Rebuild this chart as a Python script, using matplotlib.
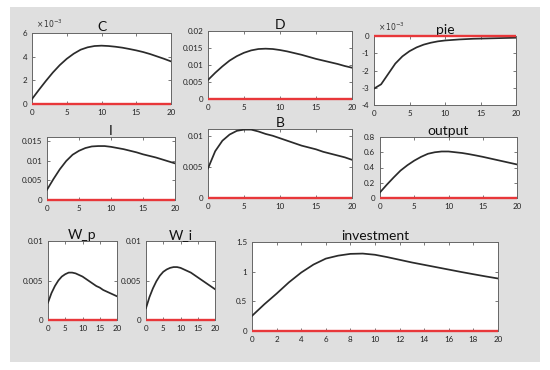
import matplotlib
matplotlib.use("Agg")
import matplotlib.pyplot as plt
from matplotlib.patches import Rectangle
from matplotlib.ticker import FuncFormatter

plt.rcParams['font.family'] = ['Lato', 'DejaVu Sans']

# ---- data (impulse responses, periods 0..20) ----
periods = list(range(21))

C_vals = [0.42, 1.2, 1.95, 2.66, 3.29, 3.82, 4.25, 4.59, 4.79, 4.9, 4.93, 4.9, 4.84,
          4.76, 4.65, 4.53, 4.39, 4.22, 4.02, 3.82, 3.6]          # x 1e-3
D_vals = [0.0056, 0.0077, 0.0096, 0.0113, 0.0126, 0.0136, 0.0143, 0.0147, 0.0148,
          0.0147, 0.0144, 0.0140, 0.0135, 0.0130, 0.0124, 0.0118, 0.0113, 0.0108,
          0.0103, 0.0097, 0.0092]
pie_vals = [-3.05, -2.8, -2.2, -1.6, -1.18, -0.88, -0.66, -0.5, -0.39, -0.31, -0.26,
            -0.23, -0.2, -0.18, -0.16, -0.15, -0.14, -0.13, -0.12, -0.11, -0.1]  # x 1e-3
I_vals = [0.0026, 0.0053, 0.0078, 0.0099, 0.0115, 0.0125, 0.0132, 0.0136, 0.0137,
          0.0137, 0.0135, 0.0132, 0.0129, 0.0125, 0.0121, 0.0116, 0.0112, 0.0108,
          0.0103, 0.0098, 0.0093]
B_vals = [0.0048, 0.0076, 0.0093, 0.0103, 0.0109, 0.0111, 0.0111, 0.0108, 0.0104,
          0.0101, 0.0097, 0.0093, 0.0089, 0.0085, 0.0082, 0.0079, 0.0075, 0.0072,
          0.0069, 0.0066, 0.0062]
output_vals = [0.074, 0.175, 0.27, 0.36, 0.43, 0.49, 0.54, 0.58, 0.60, 0.61, 0.61,
               0.60, 0.59, 0.575, 0.558, 0.54, 0.52, 0.50, 0.48, 0.46, 0.44]
Wp_vals = [0.0022, 0.0034, 0.0043, 0.0050, 0.0055, 0.0058, 0.0060, 0.0060, 0.0059,
           0.0057, 0.0055, 0.0052, 0.0049, 0.0046, 0.0043, 0.0041, 0.0038, 0.0036,
           0.0034, 0.0032, 0.0030]
Wi_vals = [0.0015, 0.0029, 0.0040, 0.0049, 0.0056, 0.0061, 0.0064, 0.0066, 0.0067,
           0.0067, 0.0066, 0.0064, 0.0062, 0.0060, 0.0057, 0.0054, 0.0051, 0.0048,
           0.0045, 0.0042, 0.0039]
inv_vals = [0.255, 0.45, 0.63, 0.82, 0.985, 1.12, 1.22, 1.27, 1.30, 1.305, 1.285, 1.245,
            1.20, 1.155, 1.115, 1.075, 1.035, 0.995, 0.957, 0.92, 0.885]
steady = [0.0] * 21

W, H = 550, 370
fig = plt.figure(figsize=(5.5, 3.7), dpi=100)
fig.patch.set_facecolor('white')
bg = Rectangle((10 / W, 1 - 362 / H), 530 / W, 355 / H,
               transform=fig.transFigure, facecolor='#dfdfdf',
               edgecolor='none', zorder=-10)
fig.add_artist(bg)

LINE = '#2b2b2b'
RED = '#e8373a'
TFS = 10
KFS = 5.8


def make_ax(x0, y0, x1, y1, title, vals, ylim, yticks, xticks, scale=1.0,
            fmt=None, mult=False):
    ax = fig.add_axes([x0 / W, 1 - y1 / H, (x1 - x0) / W, (y1 - y0) / H])
    ax.set_zorder(1)
    ax.set_facecolor('white')
    yv = [v * scale for v in vals]
    ax.plot(periods, [s * scale for s in steady], color=RED, lw=1.7, zorder=4,
            clip_on=False, solid_capstyle='butt')
    ax.plot(periods, yv, color=LINE, lw=1.25, zorder=3)
    ax.set_xlim(0, 20)
    ax.set_ylim(*ylim)
    ax.set_yticks(yticks)
    ax.set_xticks(xticks)
    if fmt is not None:
        ax.yaxis.set_major_formatter(FuncFormatter(fmt))
    else:
        ax.yaxis.set_major_formatter(FuncFormatter(lambda v, p: f"{v:g}"))
    ax.xaxis.set_major_formatter(FuncFormatter(lambda v, p: f"{v:g}"))
    ax.tick_params(direction='in', length=2, width=0.5, labelsize=KFS,
                   top=True, right=True, pad=3.5, colors='#444444',
                   labelcolor='#222222')
    for s in ax.spines.values():
        s.set_color('#666666')
        s.set_linewidth(0.7)
    ax.set_title(title, fontsize=TFS, pad=1.5, color='#111111')
    if mult:
        ax.text(0.03, 1.04, r'$\times\,10^{-3}$', transform=ax.transAxes,
                fontsize=5.5, ha='left', va='bottom', color='#333333')
    return ax


five = [0, 5, 10, 15, 20]
s3 = lambda v, p: f"{v * 1e3:g}"

make_ax(32, 33, 171, 104, 'C', C_vals, (0, 6e-3), [0, 2e-3, 4e-3, 6e-3], five,
        scale=1e-3, fmt=s3, mult=True)
make_ax(208, 31, 352, 99, 'D', D_vals, (0, 0.02), [0, 0.005, 0.01, 0.015, 0.02], five)
make_ax(374, 36, 516, 105, 'pie', pie_vals, (-4e-3, 0), [-4e-3, -3e-3, -2e-3, -1e-3, 0],
        five, scale=1e-3, fmt=s3, mult=True)
make_ax(47, 137, 175, 200, 'I', I_vals, (0, 0.016), [0, 0.005, 0.01, 0.015], five)
make_ax(208, 129, 352, 198, 'B', B_vals, (0, 0.0112), [0, 0.005, 0.01], five)
make_ax(380, 137, 517, 198, 'output', output_vals, (0, 0.8), [0, 0.2, 0.4, 0.6, 0.8], five)
make_ax(48, 241, 117, 320, 'W_p', Wp_vals, (0, 0.01), [0, 0.005, 0.01], five)
make_ax(146, 241, 215, 320, 'W_i', Wi_vals, (0, 0.01), [0, 0.005, 0.01], five)
make_ax(252, 242, 498, 331, 'investment', inv_vals, (0, 1.5), [0, 0.5, 1, 1.5],
        list(range(0, 21, 2)))

fig.savefig('out.png', dpi=100, facecolor='white')
